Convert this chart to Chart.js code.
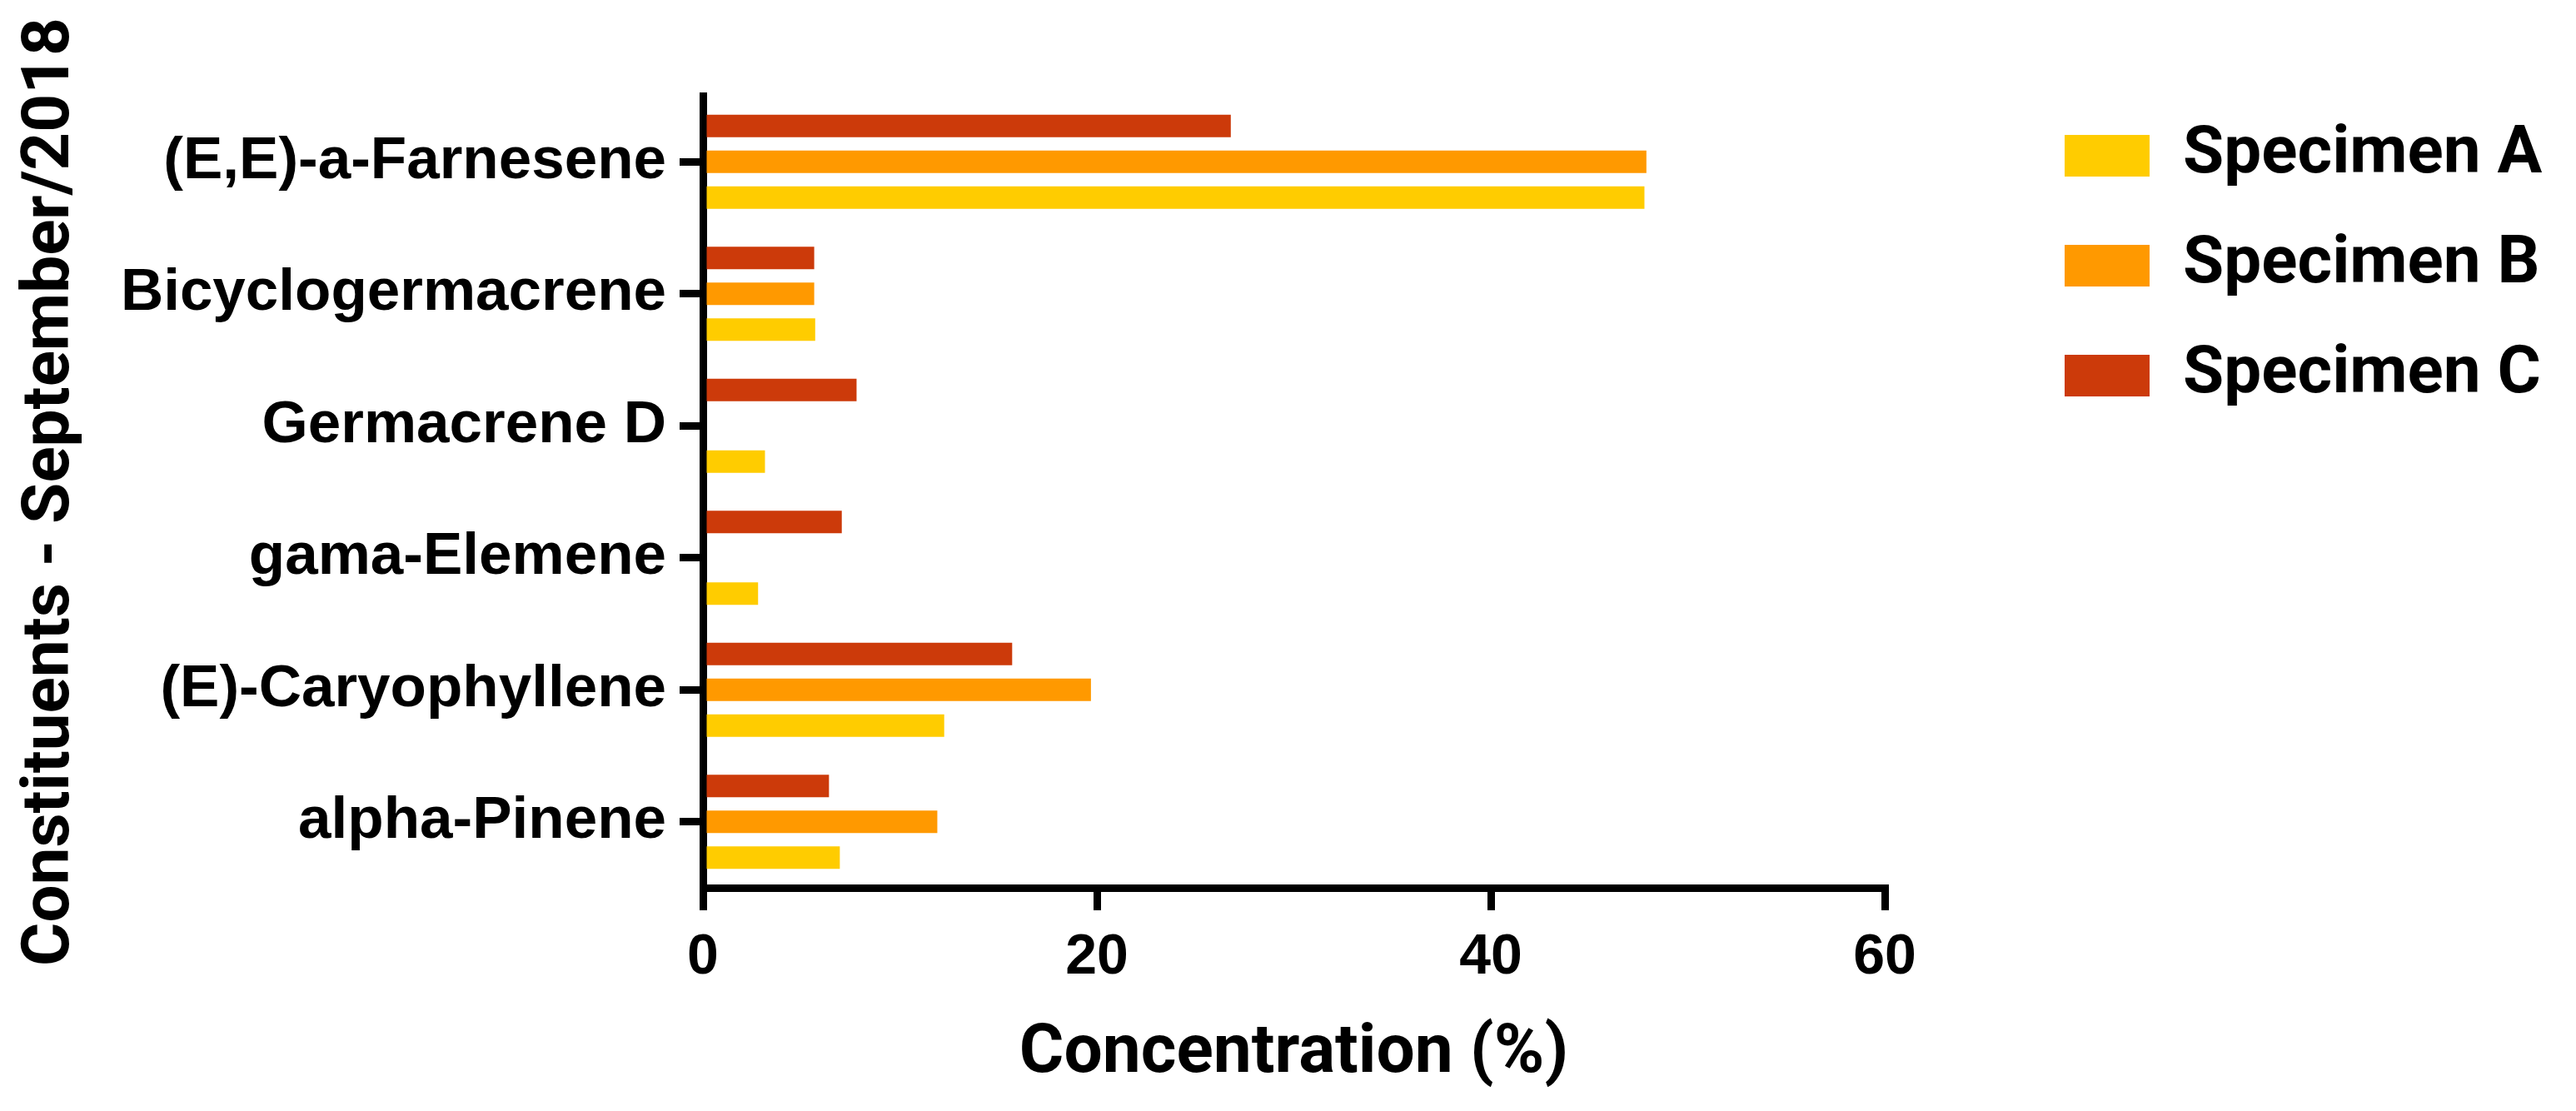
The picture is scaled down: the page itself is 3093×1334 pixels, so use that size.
<!DOCTYPE html>
<html>
<head>
<meta charset="utf-8">
<script src="https://cdn.jsdelivr.net/npm/chart.js@4.4.0/dist/chart.umd.min.js"></script>
<style>
  html, body { margin: 0; padding: 0; background: #fff; }
</style>
</head>
<body>
<canvas id="chart" width="3093" height="1334"></canvas>
<script>
// Constituents, top to bottom
const constituents = ['(E,E)-a-Farnesene', 'Bicyclogermacrene', 'Germacrene D', 'gama-Elemene', '(E)-Caryophyllene', 'alpha-Pinene'];

// Concentration (%) per specimen
const specimenA = [47.8, 5.7, 3.15, 2.8, 12.25, 6.95];
const specimenB = [47.9, 5.65, 0, 0, 19.7, 11.9];
const specimenC = [26.8, 5.65, 7.8, 7.05, 15.7, 6.4];

const seriesNames = ['Specimen A', 'Specimen B', 'Specimen C'];
const xTicks = [0, 20, 40, 60];

const colorA = '#FFCC00';
const colorB = '#FF9900';
const colorC = '#CC3A0A';

// Move the legend block to where it sits in the figure
const legendShift = {
    id: 'legendShift',
    afterLayout(chart) {
        const lg = chart.legend;
        if (!lg) return;
        const h = lg.height;
        lg.left = 2427;
        lg.top = 95;
        lg.right = chart.width;
        lg.width = lg.right - lg.left;
        lg.bottom = lg.top + h;
    }
};

const ctx = document.getElementById('chart').getContext('2d');

new Chart(ctx, {
    type: 'bar',
    data: {
        labels: constituents,
        // drawn top to bottom inside each group: C, B, A
        datasets: [
            { label: seriesNames[2], data: specimenC, backgroundColor: colorC },
            { label: seriesNames[1], data: specimenB, backgroundColor: colorB },
            { label: seriesNames[0], data: specimenA, backgroundColor: colorA }
        ]
    },
    options: {
        indexAxis: 'y',
        responsive: false,
        animation: false,
        events: [],
        categoryPercentage: 0.814,
        barPercentage: 0.628,
        layout: {
            padding: { left: 0, top: 115, right: 430, bottom: 0 }
        },
        scales: {
            x: {
                min: xTicks[0],
                max: xTicks[xTicks.length - 1],
                afterFit: function(scale) { scale.height = 268; },
                ticks: {
                    stepSize: xTicks[1] - xTicks[0],
                    color: '#000',
                    padding: 16,
                    font: { family: 'Liberation Sans', weight: 'bold', size: 68 }
                },
                grid: {
                    drawOnChartArea: false,
                    drawTicks: true,
                    tickLength: 27,
                    tickWidth: 9,
                    tickColor: '#000',
                    lineWidth: 9,
                    color: '#000'
                },
                border: { display: true, width: 9, color: '#000' },
                title: {
                    display: true,
                    text: 'Concentration (%)',
                    color: '#000',
                    padding: { top: 0, bottom: 18 },
                    font: { family: 'Roboto', weight: 'bold', size: 82, lineHeight: 1.2 }
                }
            },
            y: {
                afterFit: function(scale) { scale.width = 844; },
                ticks: {
                    autoSkip: false,
                    color: '#000',
                    padding: 16,
                    font: { family: 'Liberation Sans', weight: 'bold', size: 71 }
                },
                grid: {
                    offset: false,
                    drawOnChartArea: false,
                    drawTicks: true,
                    tickLength: 28,
                    tickWidth: 9,
                    tickColor: '#000',
                    lineWidth: 9,
                    color: '#000'
                },
                border: { display: true, width: 9, color: '#000' },
                title: {
                    display: true,
                    text: 'Constituents - September/2018',
                    color: '#000',
                    padding: { top: 14, bottom: 0 },
                    font: { family: 'Roboto', weight: 'bold', size: 80, lineHeight: 1.2 }
                }
            }
        },
        plugins: {
            legend: {
                position: 'right',
                align: 'start',
                reverse: true,
                maxWidth: 400,
                labels: {
                    boxWidth: 102,
                    boxHeight: 50,
                    padding: 52,
                    color: '#000',
                    font: { family: 'Roboto', weight: 'bold', size: 80, lineHeight: 1.2 }
                }
            },
            tooltip: { enabled: false }
        }
    },
    plugins: [legendShift]
});
</script>
</body>
</html>
